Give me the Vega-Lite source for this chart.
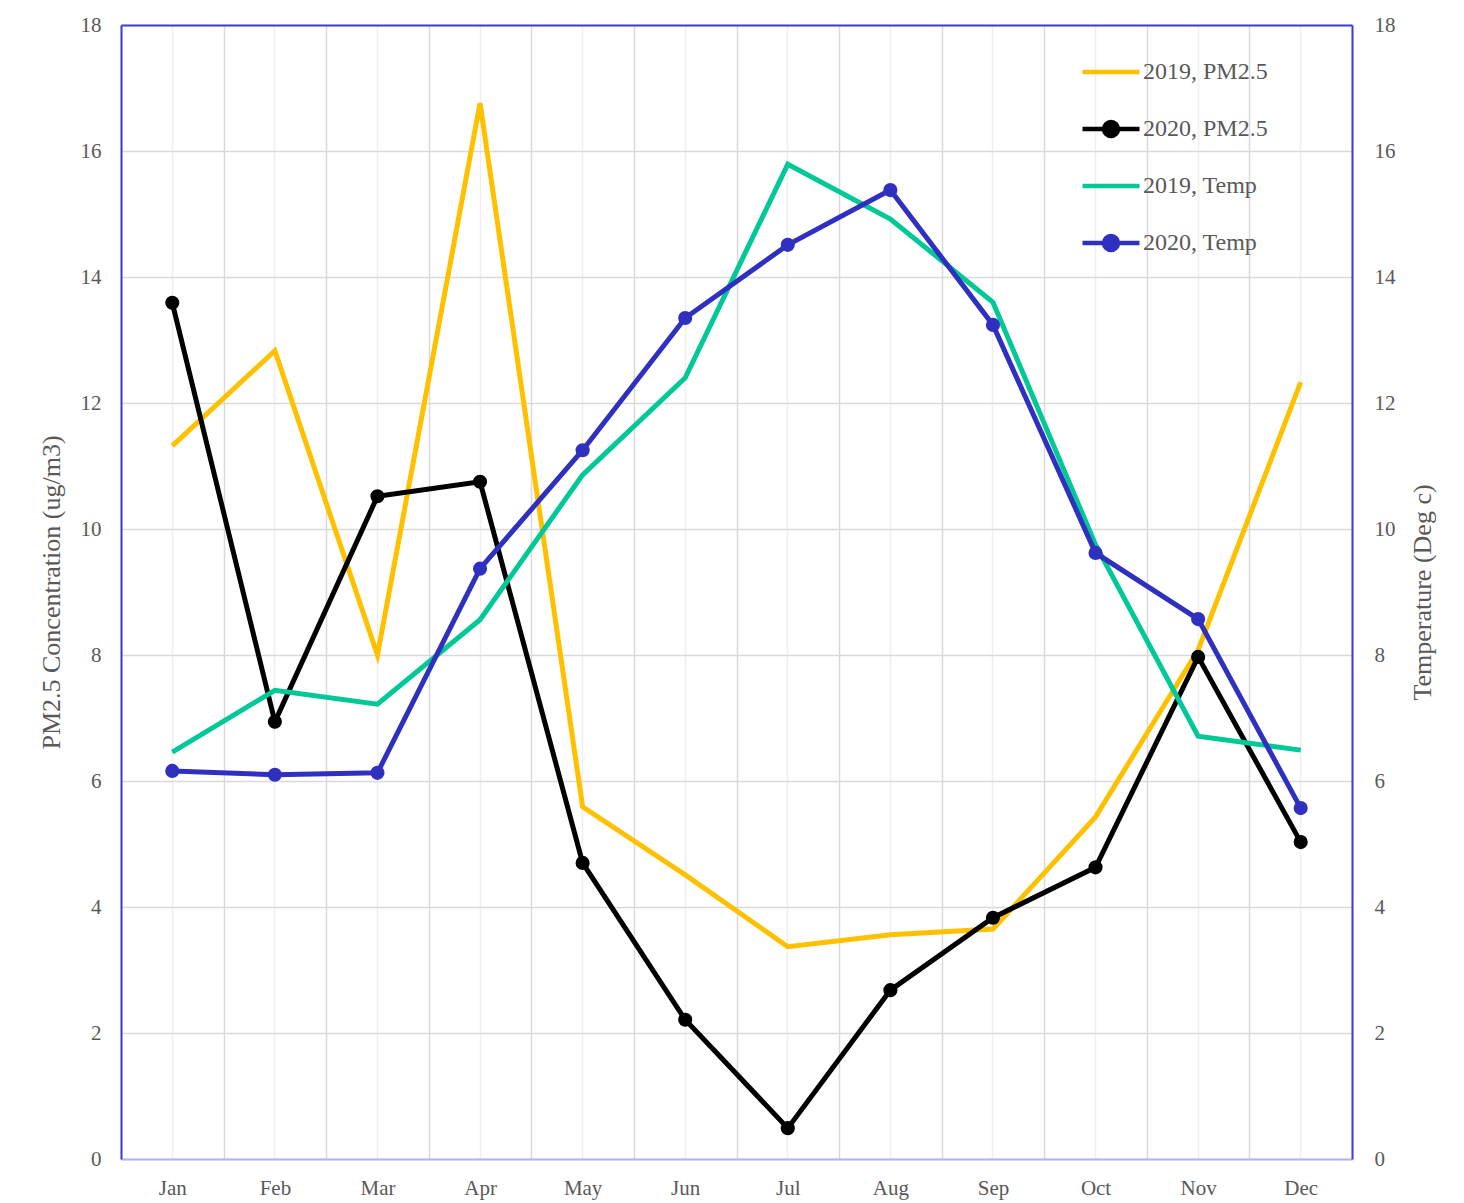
{
  "$schema": "https://vega.github.io/schema/vega-lite/v6.json",
  "width": 1231,
  "height": 1134,
  "autosize": {"type": "none"},
  "padding": {"left": 121, "top": 25, "right": 112, "bottom": 44},
  "background": "white",
  "config": {
    "view": {"stroke": null},
    "font": "Liberation Serif",
    "axis": {
      "labelFont": "Liberation Serif",
      "labelFontSize": 21,
      "labelColor": "#595959",
      "titleFont": "Liberation Serif",
      "titleFontSize": 26,
      "titleFontWeight": "normal",
      "titleColor": "#595959",
      "ticks": false,
      "domainWidth": 2
    }
  },
  "data": {
    "values": [
      {"month": "Jan", "series": "2019, PM2.5", "kind": "PM2.5", "year": 2019, "value": 11.32},
      {"month": "Feb", "series": "2019, PM2.5", "kind": "PM2.5", "year": 2019, "value": 12.83},
      {"month": "Mar", "series": "2019, PM2.5", "kind": "PM2.5", "year": 2019, "value": 8.0},
      {"month": "Apr", "series": "2019, PM2.5", "kind": "PM2.5", "year": 2019, "value": 16.76},
      {"month": "May", "series": "2019, PM2.5", "kind": "PM2.5", "year": 2019, "value": 5.59},
      {"month": "Jun", "series": "2019, PM2.5", "kind": "PM2.5", "year": 2019, "value": 4.51},
      {"month": "Jul", "series": "2019, PM2.5", "kind": "PM2.5", "year": 2019, "value": 3.37},
      {"month": "Aug", "series": "2019, PM2.5", "kind": "PM2.5", "year": 2019, "value": 3.56},
      {"month": "Sep", "series": "2019, PM2.5", "kind": "PM2.5", "year": 2019, "value": 3.65},
      {"month": "Oct", "series": "2019, PM2.5", "kind": "PM2.5", "year": 2019, "value": 5.43},
      {"month": "Nov", "series": "2019, PM2.5", "kind": "PM2.5", "year": 2019, "value": 8.08},
      {"month": "Dec", "series": "2019, PM2.5", "kind": "PM2.5", "year": 2019, "value": 12.33},
      {"month": "Jan", "series": "2020, PM2.5", "kind": "PM2.5", "year": 2020, "value": 13.59},
      {"month": "Feb", "series": "2020, PM2.5", "kind": "PM2.5", "year": 2020, "value": 6.94},
      {"month": "Mar", "series": "2020, PM2.5", "kind": "PM2.5", "year": 2020, "value": 10.52},
      {"month": "Apr", "series": "2020, PM2.5", "kind": "PM2.5", "year": 2020, "value": 10.75},
      {"month": "May", "series": "2020, PM2.5", "kind": "PM2.5", "year": 2020, "value": 4.70},
      {"month": "Jun", "series": "2020, PM2.5", "kind": "PM2.5", "year": 2020, "value": 2.21},
      {"month": "Jul", "series": "2020, PM2.5", "kind": "PM2.5", "year": 2020, "value": 0.49},
      {"month": "Aug", "series": "2020, PM2.5", "kind": "PM2.5", "year": 2020, "value": 2.68},
      {"month": "Sep", "series": "2020, PM2.5", "kind": "PM2.5", "year": 2020, "value": 3.83},
      {"month": "Oct", "series": "2020, PM2.5", "kind": "PM2.5", "year": 2020, "value": 4.63},
      {"month": "Nov", "series": "2020, PM2.5", "kind": "PM2.5", "year": 2020, "value": 7.97},
      {"month": "Dec", "series": "2020, PM2.5", "kind": "PM2.5", "year": 2020, "value": 5.03},
      {"month": "Jan", "series": "2019, Temp", "kind": "Temp", "year": 2019, "value": 6.46},
      {"month": "Feb", "series": "2019, Temp", "kind": "Temp", "year": 2019, "value": 7.44},
      {"month": "Mar", "series": "2019, Temp", "kind": "Temp", "year": 2019, "value": 7.22},
      {"month": "Apr", "series": "2019, Temp", "kind": "Temp", "year": 2019, "value": 8.56},
      {"month": "May", "series": "2019, Temp", "kind": "Temp", "year": 2019, "value": 10.86},
      {"month": "Jun", "series": "2019, Temp", "kind": "Temp", "year": 2019, "value": 12.40},
      {"month": "Jul", "series": "2019, Temp", "kind": "Temp", "year": 2019, "value": 15.79},
      {"month": "Aug", "series": "2019, Temp", "kind": "Temp", "year": 2019, "value": 14.92},
      {"month": "Sep", "series": "2019, Temp", "kind": "Temp", "year": 2019, "value": 13.60},
      {"month": "Oct", "series": "2019, Temp", "kind": "Temp", "year": 2019, "value": 9.75},
      {"month": "Nov", "series": "2019, Temp", "kind": "Temp", "year": 2019, "value": 6.71},
      {"month": "Dec", "series": "2019, Temp", "kind": "Temp", "year": 2019, "value": 6.49},
      {"month": "Jan", "series": "2020, Temp", "kind": "Temp", "year": 2020, "value": 6.16},
      {"month": "Feb", "series": "2020, Temp", "kind": "Temp", "year": 2020, "value": 6.10},
      {"month": "Mar", "series": "2020, Temp", "kind": "Temp", "year": 2020, "value": 6.13},
      {"month": "Apr", "series": "2020, Temp", "kind": "Temp", "year": 2020, "value": 9.37},
      {"month": "May", "series": "2020, Temp", "kind": "Temp", "year": 2020, "value": 11.25},
      {"month": "Jun", "series": "2020, Temp", "kind": "Temp", "year": 2020, "value": 13.35},
      {"month": "Jul", "series": "2020, Temp", "kind": "Temp", "year": 2020, "value": 14.51},
      {"month": "Aug", "series": "2020, Temp", "kind": "Temp", "year": 2020, "value": 15.38},
      {"month": "Sep", "series": "2020, Temp", "kind": "Temp", "year": 2020, "value": 13.24},
      {"month": "Oct", "series": "2020, Temp", "kind": "Temp", "year": 2020, "value": 9.62},
      {"month": "Nov", "series": "2020, Temp", "kind": "Temp", "year": 2020, "value": 8.57},
      {"month": "Dec", "series": "2020, Temp", "kind": "Temp", "year": 2020, "value": 5.57}
    ]
  },
  "layer": [
    {
      "transform": [{"filter": "datum.kind === 'PM2.5'"}],
      "encoding": {
        "x": {
          "field": "month", "type": "ordinal",
          "sort": ["Jan","Feb","Mar","Apr","May","Jun","Jul","Aug","Sep","Oct","Nov","Dec"],
          "scale": {"type": "band", "paddingInner": 0, "paddingOuter": 0},
          "axis": {"orient": "bottom", "title": null, "labelAngle": 0, "labelPadding": 18, "domainColor": "#b4b4ec", "grid": true, "gridColor": "#d9d9d9", "gridWidth": 1.5, "tickBand": "extent"}
        },
        "y": {
          "field": "value", "type": "quantitative",
          "scale": {"domain": [0, 18], "nice": false},
          "axis": {"orient": "left", "title": "PM2.5 Concentration (ug/m3)", "values": [0,2,4,6,8,10,12,14,16,18], "labelPadding": 20, "titlePadding": 16, "domainColor": "#3c3cdc", "grid": true, "gridColor": "#d9d9d9", "gridWidth": 1.5}
        },
        "color": {
          "field": "series", "type": "nominal",
          "scale": {"domain": ["2019, PM2.5", "2020, PM2.5", "2019, Temp", "2020, Temp"], "range": ["#FFC000", "#000000", "#00C896", "#3030C0"]},
          "legend": {
            "title": null,
            "orient": "none",
            "legendX": 959,
            "legendY": 16,
            "padding": 0,
            "rowPadding": 10,
            "gridAlign": "all",
            "symbolSize": 3249,
            "symbolStrokeWidth": 4,
            "labelFont": "Liberation Serif",
            "labelFontSize": 24,
            "labelColor": "#595959",
            "labelOffset": 1,
            "encode": {
              "symbols": {
                "update": {
                  "shape": {"signal": "indexof(datum.value, '2020') === 0 ? 'M-1,0H1M0.245,0A0.245,0.245,0,1,1,-0.245,0A0.245,0.245,0,1,1,0.245,0Z' : 'M-1,0H1'"},
                  "fill": {"scale": "color", "field": "value"},
                  "stroke": {"scale": "color", "field": "value"},
                  "strokeWidth": {"value": 4.5},
                  "opacity": {"value": 1},
                  "fillOpacity": {"value": 1}
                }
              }
            }
          }
        }
      },
      "layer": [
        {"mark": {"type": "line", "strokeWidth": 5}},
        {"transform": [{"filter": "datum.year === 2020"}], "mark": {"type": "point", "filled": true, "size": 200, "opacity": 1}}
      ]
    },
    {
      "transform": [{"filter": "datum.kind === 'Temp'"}],
      "encoding": {
        "x": {
          "field": "month", "type": "ordinal",
          "sort": ["Jan","Feb","Mar","Apr","May","Jun","Jul","Aug","Sep","Oct","Nov","Dec"],
          "scale": {"type": "band", "paddingInner": 0, "paddingOuter": 0},
          "axis": {"orient": "top", "title": null, "labels": false, "domainColor": "#3c3cdc", "grid": true, "gridColor": "#efefef", "gridWidth": 1.5, "tickBand": "center"}
        },
        "y": {
          "field": "value", "type": "quantitative",
          "scale": {"domain": [0, 18], "nice": false},
          "axis": {"orient": "right", "title": "Temperature (Deg c)", "titleAngle": -90, "values": [0,2,4,6,8,10,12,14,16,18], "labelPadding": 22, "titlePadding": 40, "domainColor": "#3c3cdc", "grid": false}
        },
        "color": {"field": "series", "type": "nominal"}
      },
      "layer": [
        {"mark": {"type": "line", "strokeWidth": 5}},
        {"transform": [{"filter": "datum.year === 2020"}], "mark": {"type": "point", "filled": true, "size": 200, "opacity": 1}}
      ]
    }
  ],
  "resolve": {"scale": {"y": "independent"}, "axis": {"x": "independent", "y": "independent"}}
}
